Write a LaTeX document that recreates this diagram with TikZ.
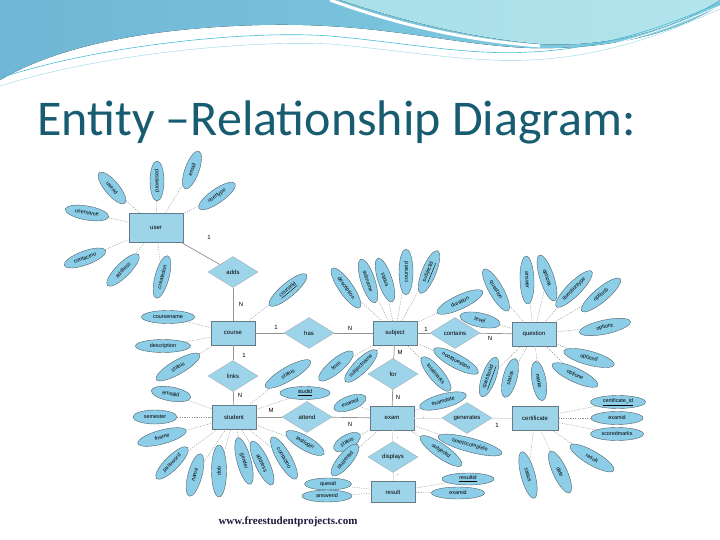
\documentclass[tikz,border=0pt]{standalone}
\usepackage{fontspec}
\usepackage{tikz}
\usetikzlibrary{shapes.geometric}
\newfontfamily\titlefont{Carlito}
\newfontfamily\diafont{Liberation Sans}
\newfontfamily\webfont{Liberation Serif}
\definecolor{titleteal}{RGB}{24,92,114}
\definecolor{boxblue}{RGB}{158,212,233}
\definecolor{ovalblue}{RGB}{140,205,231}
\definecolor{edgegray}{RGB}{100,122,134}
\definecolor{wavedark}{RGB}{112,182,214}
\definecolor{wavemid}{RGB}{128,206,226}
\definecolor{wavelight}{RGB}{178,228,236}
\definecolor{wavecyan}{RGB}{70,190,214}
\definecolor{webnavy}{RGB}{28,28,60}

\tikzset{
  entity/.style={draw=edgegray, fill=boxblue, minimum width=44pt, minimum height=24pt, inner sep=1pt, font=\diafont\fontsize{6}{7}\selectfont},
  relation/.style={diamond, draw=edgegray!60, fill=boxblue, aspect=1.7, minimum width=50pt, minimum height=31pt, inner sep=0pt, font=\diafont\fontsize{6}{7}\selectfont},
  attrib/.style={ellipse, draw=edgegray!80!black, fill=ovalblue, minimum width=44pt, minimum height=14pt, inner sep=0.3pt, font=\diafont\fontsize{5.4}{6}\selectfont},
  solidlink/.style={draw=gray!85, line width=0.7pt},
  attlink/.style={draw=gray!85, line width=0.4pt, dash pattern=on 1.2pt off 1.2pt},
  card/.style={inner sep=0pt, font=\diafont\fontsize{6}{7}\selectfont},
}

\begin{document}
\begin{tikzpicture}[x=1pt, y=-1pt]
    \path[use as bounding box, fill=white] (0,0) rectangle (720,540);

    % header wave
    \fill[left color=wavedark, right color=wavemid] (0,0) -- (720,0) -- (720,5)
        .. controls (680,30) and (620,50) .. (530,48)
        .. controls (450,45) and (380,22) .. (260,25)
        .. controls (150,28) and (60,45) .. (0,80) -- cycle;
    \fill[left color=wavelight!80!wavemid, right color=wavelight] (340,0)
        .. controls (400,20) and (470,38) .. (540,44)
        .. controls (620,48) and (680,25) .. (720,0) -- cycle;
    \draw[white, line width=3pt] (330,0) .. controls (390,22) and (460,40) .. (540,46);
    \draw[wavecyan, line width=0.6pt] (0,78) .. controls (100,45) and (250,30) .. (330,36)
        .. controls (400,42) and (470,56) .. (530,52) .. controls (620,48) and (690,15) .. (720,3);
    \draw[white, line width=0.8pt] (0,82) .. controls (100,50) and (250,36) .. (330,40)
        .. controls (400,46) and (470,60) .. (530,56) .. controls (620,52) and (690,18) .. (720,6);
    \draw[wavecyan!60, line width=0.4pt] (0,86) .. controls (100,54) and (250,40) .. (330,44)
        .. controls (400,50) and (470,63) .. (530,60) .. controls (620,56) and (690,22) .. (720,9);

    \node[anchor=base west, inner sep=0pt, text=titleteal, font=\titlefont\fontsize{50}{60}\selectfont] (title) at (37,136) {Entity –Relationship Diagram:};

    % entities
    \node[entity, minimum width=54pt, minimum height=29pt] (user) at (156,228) {user};
    \node[entity] (course) at (233,333) {course};
    \node[entity] (student) at (234,417) {student};
    \node[entity] (subject) at (395,333) {subject};
    \node[entity] (question) at (534,334) {question};
    \node[entity] (exam) at (392,418) {exam};
    \node[entity, minimum width=46pt] (certificate) at (535,418) {certificate};
    \node[entity, minimum height=21pt] (result) at (393,492) {result};

    % relationships
    \node[relation] (adds) at (233,272) {adds};
    \node[relation] (has) at (309,333) {has};
    \node[relation] (links) at (233,376) {links};
    \node[relation] (attend) at (307,417) {attend};
    \node[relation] (for) at (393,374) {for};
    \node[relation] (contains) at (455,333) {contains};
    \node[relation] (generates) at (467,418) {generates};
    \node[relation] (displays) at (393,457) {displays};

    \draw[solidlink] (user) -- (adds);
    \draw[solidlink] (adds) -- (course);
    \draw[solidlink] (course) -- (has);
    \draw[solidlink] (has) -- (subject);
    \draw[solidlink] (course) -- (links);
    \draw[solidlink] (links) -- (student);
    \draw[solidlink] (student) -- (attend);
    \draw[solidlink] (attend) -- (exam);
    \draw[solidlink] (subject) -- (for);
    \draw[solidlink] (for) -- (exam);
    \draw[solidlink] (subject) -- (contains);
    \draw[solidlink] (contains) -- (question);
    \draw[solidlink, draw=gray!25] (exam) -- (generates);
    \draw[solidlink, draw=gray!25] (generates) -- (certificate);
    \draw[solidlink, draw=gray!25] (exam) -- (displays);
    \draw[solidlink, draw=gray!25] (displays) -- (result);

    % cardinalities
    \node[card] (k1) at (209,237) {1};
    \node[card] (k2) at (241,304) {N};
    \node[card] (k3) at (276,327) {1};
    \node[card] (k4) at (350,328) {N};
    \node[card] (k5) at (244,355) {1};
    \node[card] (k6) at (240,395) {N};
    \node[card] (k7) at (271,410) {M};
    \node[card] (k8) at (350,424) {N};
    \node[card] (k9) at (400,352) {M};
    \node[card] (k10) at (398,397) {N};
    \node[card] (k11) at (426,329) {1};
    \node[card] (k12) at (490,338) {N};
    \node[card] (k13) at (424,418) {.};
    \node[card] (k14) at (497,425) {1};
    \node[card] (k15) at (398,438) {.};
    \node[card] (k16) at (398,475) {.};

    % user attributes
    \node[attrib, minimum width=40pt, rotate=-50] (u1) at (112,188) {userid};
    \node[attrib, minimum width=40pt, rotate=-90] (u2) at (157,181) {password};
    \node[attrib, minimum width=40pt, rotate=70] (u3) at (192,170) {email};
    \node[attrib, rotate=35] (u4) at (217,196) {usertype};
    \node[attrib, rotate=-10] (u5) at (87,213) {username};
    \node[attrib, rotate=20] (u6) at (85,258) {contactno};
    \node[attrib, rotate=45] (u7) at (123,270) {address};
    \node[attrib, rotate=75] (u8) at (162,277) {createdon};
    \foreach \i in {1,...,8} \draw[attlink] (u\i) -- (user);

    % course attributes
    \node[attrib, minimum width=53pt, minimum height=13pt] (c1) at (168,317) {coursename};
    \node[attrib, minimum width=55pt, minimum height=13pt] (c2) at (163,346) {description};
    \node[attrib, minimum width=50pt, rotate=30] (c3) at (178,367) {status};
    \node[attrib, minimum width=48pt, rotate=40] (c4) at (288,290) {\underline{courseid}};
    \foreach \i in {1,...,4} \draw[attlink] (c\i) -- (course);

    % student attributes
    \node[attrib, minimum width=40pt, rotate=-10] (s1) at (171,394) {emailid};
    \node[attrib] (s2) at (155,417) {semester};
    \node[attrib, minimum width=50pt, rotate=15] (s3) at (162,437) {fname};
    \node[attrib, rotate=45] (s4) at (172,463) {password};
    \node[attrib, rotate=75] (s5) at (195,475) {name};
    \node[attrib, minimum width=52pt, minimum height=15pt, rotate=90] (s6) at (219,471) {dob};
    \node[attrib, minimum width=48pt, rotate=-75] (s7) at (244,461) {gender};
    \node[attrib, minimum width=48pt, rotate=-65] (s8) at (262,463) {address};
    \node[attrib, minimum width=48pt, rotate=-60] (s9) at (284,458) {contactno};
    \node[attrib, rotate=-30] (s10) at (305,443) {lastlogin};
    \node[attrib, minimum width=52pt, rotate=30] (s11) at (288,374) {status};
    \node[attrib, minimum width=50pt, minimum height=13pt] (s12) at (305,393) {\underline{studid}};
    \foreach \i in {1,...,12} \draw[attlink] (s\i) -- (student);

    % subject attributes
    \node[attrib, minimum width=48pt, rotate=-55] (b1) at (346,288) {description};
    \node[attrib, minimum width=46pt, rotate=-72] (b2) at (368,281) {subname};
    \node[attrib, minimum width=46pt, rotate=-72] (b3) at (385,280) {status};
    \node[attrib, minimum width=46pt, rotate=90] (b4) at (406,272) {courseid};
    \node[attrib, minimum width=46pt, rotate=68] (b5) at (429,272) {\underline{subjectid}};
    \node[attrib, minimum width=50pt, rotate=25] (b6) at (460,302) {duration};
    \node[attrib, rotate=40] (b7) at (336,366) {fees};
    \node[attrib, rotate=45] (b8) at (361,366) {subjectname};
    \node[attrib, minimum width=50pt, rotate=-28] (b9) at (456,361) {noofquestion};
    \node[attrib, rotate=-50] (b10) at (436,374) {totalmarks};
    \foreach \i in {1,...,10} \draw[attlink] (b\i) -- (subject);

    % question attributes
    \node[attrib, minimum width=41pt, rotate=-12] (q1) at (480,320) {level};
    \node[attrib, minimum width=48pt, rotate=-60] (q2) at (496,290) {question};
    \node[attrib, minimum width=48pt, rotate=-88] (q3) at (527,280) {answer};
    \node[attrib, minimum width=48pt, rotate=-72] (q4) at (547,278) {optiona};
    \node[attrib, minimum width=50pt, rotate=45] (q5) at (574,289) {questiontype};
    \node[attrib, minimum width=50pt, rotate=40] (q6) at (601,295) {optionb};
    \node[attrib, minimum width=52pt, rotate=12] (q7) at (605,327) {optionc};
    \node[attrib, minimum width=52pt, rotate=-15] (q8) at (589,358) {optiond};
    \node[attrib, minimum width=50pt, rotate=-25] (q9) at (575,375) {optione};
    \node[attrib, minimum width=40pt, rotate=-80] (q10) at (539,381) {marks};
    \node[attrib, minimum width=40pt, rotate=75] (q11) at (510,378) {status};
    \node[attrib, minimum width=42pt, rotate=70] (q12) at (489,377) {\underline{questionid}};
    \foreach \i in {1,...,12} \draw[attlink] (q\i) -- (question);

    % exam attributes
    \node[attrib, minimum width=34pt, rotate=20] (e1) at (350,403) {examid};
    \node[attrib, minimum width=48pt, rotate=15] (e2) at (443,401) {examdate};
    \node[attrib, minimum width=30pt, rotate=30] (e3) at (347,442) {status};
    \node[attrib, minimum width=40pt, rotate=50] (e4) at (345,460) {studentid};
    \node[attrib, minimum width=50pt, rotate=-35] (e6) at (441,451) {subjectid};
    \node[attrib, minimum width=66pt, rotate=-15] (e5) at (470,445) {timetocomplete};
    \foreach \i in {1,...,6} \draw[attlink] (e\i) -- (exam);

    % result attributes
    \node[attrib, minimum width=47pt, minimum height=12pt] (r1) at (328,484) {quesid};
    \node[attrib, minimum width=50pt, minimum height=12pt] (r2) at (327,496) {answerid};
    \node[attrib, minimum width=52pt, minimum height=12pt] (r3) at (468,479) {\underline{resultid}};
    \node[attrib, minimum width=53pt, minimum height=12pt] (r4) at (458,493) {examid};
    \foreach \i in {1,...,4} \draw[attlink] (r\i) -- (result);

    % certificate attributes
    \node[attrib, minimum width=55pt, minimum height=13pt] (f1) at (618,402) {\underline{certificate\_id}};
    \node[attrib, minimum width=52pt, minimum height=13pt] (f2) at (617,418) {examid};
    \node[attrib, minimum width=53pt, minimum height=13pt] (f3) at (617,434) {scoredmarks};
    \node[attrib, minimum width=50pt, rotate=-30] (f4) at (592,458) {result};
    \node[attrib, minimum width=46pt, rotate=-65] (f5) at (560,472) {date};
    \node[attrib, minimum width=48pt, rotate=-75] (f6) at (528,475) {status};
    \foreach \i in {1,...,6} \draw[attlink] (f\i) -- (certificate);

    \node[text=webnavy, font=\webfont\bfseries\fontsize{11}{12}\selectfont] (site) at (288,522) {www.freestudentprojects.com};
\end{tikzpicture}
\end{document}
